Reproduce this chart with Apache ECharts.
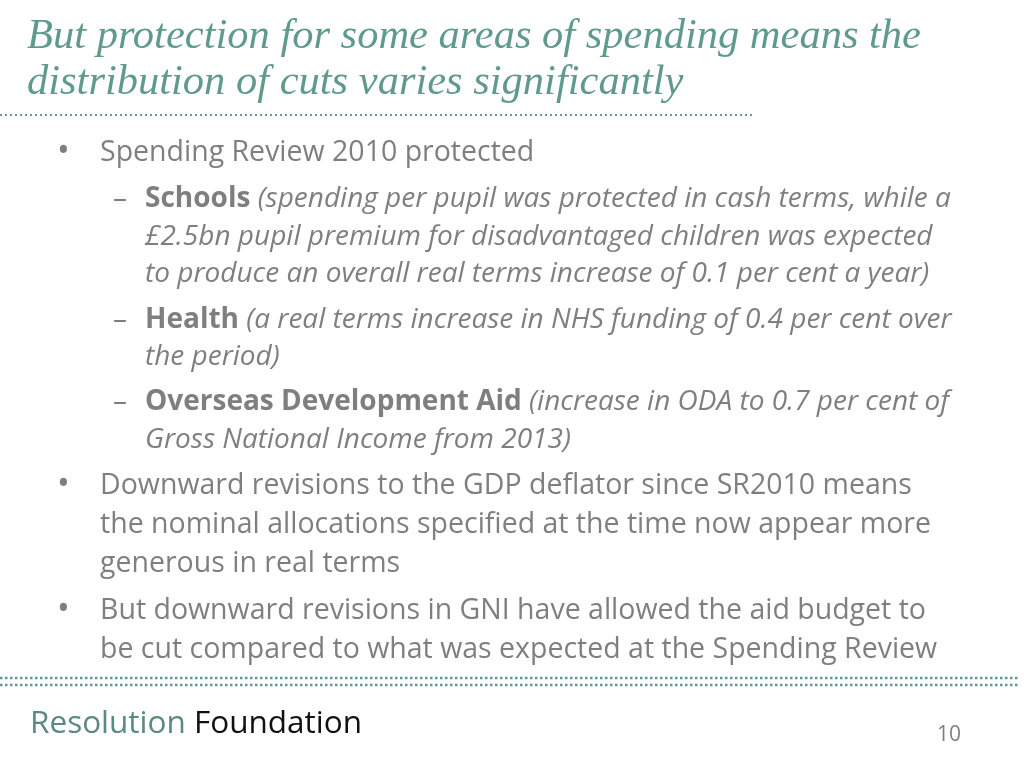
<!DOCTYPE html>
<html><head><meta charset="utf-8">
<script src="https://cdn.jsdelivr.net/npm/echarts@6/dist/echarts.min.js"></script>
<style>html,body{margin:0;padding:0;background:#fff}#c{width:1024px;height:768px}</style>
</head><body><div id="c"></div>
<script>
const titleLines = ["But protection for some areas of spending means the", "distribution of cuts varies significantly"];
// [level, y, segments: [style, text], bullet]
const bodyLines = [
  [1, 150, [["n","Spending Review 2010 protected"]], true],
  [2, 196, [["b","Schools "],["i","(spending per pupil was protected in cash terms, while a"]], true],
  [2, 234, [["i","£2.5bn pupil premium for disadvantaged children was expected"]], false],
  [2, 271, [["i","to produce an overall real terms increase of 0.1 per cent a year)"]], false],
  [2, 317, [["b","Health "],["i","(a real terms increase in NHS funding of 0.4 per cent over"]], true],
  [2, 354, [["i","the period)"]], false],
  [2, 399, [["b","Overseas Development Aid "],["i","(increase in ODA to 0.7 per cent of"]], true],
  [2, 437, [["i","Gross National Income from 2013)"]], false],
  [1, 483, [["n","Downward revisions to the GDP deflator since SR2010 means"]], true],
  [1, 522, [["n","the nominal allocations specified at the time now appear more"]], false],
  [1, 561, [["n","generous in real terms"]], false],
  [1, 608, [["n","But downward revisions in GNI have allowed the aid budget to"]], true],
  [1, 647, [["n","be cut compared to what was expected at the Spending Review"]], false]
];
const footerLeft = "Resolution", footerRight = "Foundation", pageNum = "10";

const teal = "#5f9a8c", grey = "#7f7f7f", font = "'Open Sans'";
const g = [];
titleLines.forEach((t, i) => g.push({type:"text", left:27, top:15 + i*46,
  style:{text:t, font:"italic 42.5px 'Liberation Serif'", fill:teal}}));
g.push({type:"line", shape:{x1:0,y1:115,x2:755,y2:115}, style:{stroke:teal, lineWidth:2, lineDash:[2,3]}});
[678,685].forEach(y => g.push({type:"line", shape:{x1:0,y1:y,x2:1020,y2:y}, style:{stroke:teal, lineWidth:2.5, lineDash:[2.5,2.5]}}));
bodyLines.forEach(([lvl, y, segs, mark]) => {
  const size = lvl === 1 ? 28.5 : 28;
  const x = lvl === 1 ? 100 : 145;
  const top = y - size*0.72 + 9;
  if (mark) g.push({type:"text", left: lvl===1 ? 57 : 113, top: lvl===1 ? top - 3 : top,
    style:{text: lvl===1 ? "•" : "–", font: (lvl===1 ? 34 : size)+"px "+font, fill:grey}});
  const rich = {
    n:{fontFamily:font, fontSize:size, fill:grey},
    b:{fontFamily:font, fontSize:size, fill:grey, fontWeight:"bold"},
    i:{fontFamily:font, fontSize:size, fill:grey, fontStyle:"italic"}
  };
  g.push({type:"text", left:x, top:top,
    style:{text: segs.map(s => "{"+s[0]+"|"+s[1]+"}").join(""), rich:rich}});
});
g.push({type:"text", left:30, top:708, style:{text:"{a|"+footerLeft+" }{b|"+footerRight+"}",
  rich:{a:{fontFamily:font, fontSize:31.5, fill:"#5b8a80"}, b:{fontFamily:font, fontSize:31.5, fill:"#111"}}}});
g.push({type:"text", left:937, top:725, style:{text:pageNum, font:"21px "+font, fill:grey}});

const chart = echarts.init(document.getElementById("c"));
chart.setOption({backgroundColor:"#fff", graphic:g});
</script></body></html>
